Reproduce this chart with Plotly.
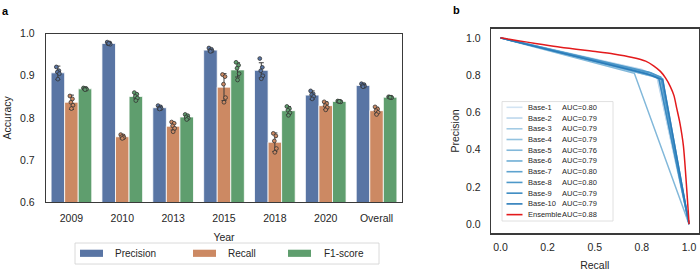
import plotly.graph_objects as go

# ---------------- data: panel a ----------------
years = ["2009", "2010", "2013", "2015", "2018", "2020", "Overall"]
metrics = ["Precision", "Recall", "F1-score"]

precision_mean = [0.907, 0.977, 0.824, 0.961, 0.913, 0.854, 0.877]
recall_mean = [0.837, 0.755, 0.780, 0.873, 0.742, 0.829, 0.817]
f1_mean = [0.869, 0.851, 0.802, 0.914, 0.817, 0.839, 0.849]

precision_err = [0.016, 0.003, 0.005, 0.004, 0.018, 0.010, 0.004]
recall_err = [0.017, 0.005, 0.009, 0.032, 0.022, 0.009, 0.008]
f1_err = [0.002, 0.006, 0.005, 0.017, 0.010, 0.002, 0.001]

precision_folds = [
    [0.921, 0.912, 0.909, 0.905, 0.892],
    [0.980, 0.978, 0.976, 0.975, 0.977],
    [0.829, 0.826, 0.823, 0.822, 0.821],
    [0.966, 0.963, 0.960, 0.959, 0.958],
    [0.941, 0.920, 0.912, 0.900, 0.893],
    [0.864, 0.857, 0.855, 0.851, 0.845],
    [0.881, 0.879, 0.877, 0.875, 0.874],
]
recall_folds = [
    [0.852, 0.845, 0.837, 0.830, 0.822],
    [0.760, 0.757, 0.755, 0.753, 0.751],
    [0.790, 0.787, 0.781, 0.775, 0.767],
    [0.903, 0.898, 0.880, 0.848, 0.837],
    [0.763, 0.757, 0.745, 0.727, 0.718],
    [0.838, 0.834, 0.829, 0.825, 0.819],
    [0.826, 0.821, 0.817, 0.813, 0.808],
]
f1_folds = [
    [0.871, 0.870, 0.869, 0.868, 0.867],
    [0.860, 0.856, 0.851, 0.847, 0.841],
    [0.808, 0.805, 0.802, 0.799, 0.796],
    [0.932, 0.925, 0.918, 0.905, 0.890],
    [0.827, 0.822, 0.818, 0.812, 0.806],
    [0.840, 0.839, 0.839, 0.838, 0.839],
    [0.850, 0.849, 0.849, 0.848, 0.849],
]

# ---------------- data: panel b ----------------
base_names = ["Base-1", "Base-2", "Base-3", "Base-4", "Base-5",
              "Base-6", "Base-7", "Base-8", "Base-9", "Base-10"]
base_auc = ["0.80", "0.79", "0.79", "0.79", "0.76", "0.79", "0.80", "0.80", "0.79", "0.79"]
base_recall = [
    [0.0, 0.78, 0.83, 1.0],
    [0.0, 0.75, 0.83, 1.0],
    [0.0, 0.77, 0.84, 1.0],
    [0.0, 0.79, 0.85, 1.0],
    [0.0, 0.71, 1.0],
    [0.0, 0.78, 0.84, 1.0],
    [0.0, 0.80, 0.86, 1.0],
    [0.0, 0.79, 0.85, 1.0],
    [0.0, 0.77, 0.84, 1.0],
    [0.0, 0.80, 0.86, 1.0],
]
base_precision = [
    [1.0, 0.815, 0.795, 0.0],
    [1.0, 0.830, 0.790, 0.0],
    [1.0, 0.805, 0.785, 0.0],
    [1.0, 0.805, 0.780, 0.0],
    [1.0, 0.810, 0.0],
    [1.0, 0.800, 0.790, 0.0],
    [1.0, 0.810, 0.780, 0.0],
    [1.0, 0.815, 0.790, 0.0],
    [1.0, 0.810, 0.780, 0.0],
    [1.0, 0.800, 0.775, 0.0],
]
ens_name = "Ensemble"
ens_auc = "0.88"
ens_recall = [0.0, 0.318, 0.512, 0.60, 0.70, 0.77, 0.812, 0.848, 0.875, 0.90, 0.92, 0.935, 0.95, 0.97, 1.0]
ens_precision = [1.0, 0.949, 0.926, 0.914, 0.895, 0.875, 0.850, 0.820, 0.785, 0.740, 0.690, 0.620, 0.550, 0.420, 0.0]

# ---------------- styling ----------------
W, H = 700, 271
FONT = "Liberation Sans, Arial, Helvetica, sans-serif"
TXT = "#262626"
bar_colors = ["#5975a4", "#cc8963", "#5f9e6e"]
blues = ["#d3e4f3", "#bcd7ec", "#a3cbe4", "#92c2df", "#82b8da",
         "#6faed5", "#5ea3cf", "#4d98c9", "#3c8bc2", "#2a7bb9"]
red = "#e31a1c"


def px(x):
    return x / W


def py(y):
    return (H - y) / H


fig = go.Figure()

means = [precision_mean, recall_mean, f1_mean]
errs = [precision_err, recall_err, f1_err]
folds = [precision_folds, recall_folds, f1_folds]
xs = list(range(len(years)))
bw = 0.8 / 3
jit = [-0.03, 0.02, -0.01, 0.03, 0.0]

for k, m in enumerate(metrics):
    fig.add_trace(go.Bar(
        x=xs, y=means[k], name=m, offsetgroup=str(k),
        marker=dict(color=bar_colors[k], line=dict(color="white", width=0.8)),
        error_y=dict(type="data", array=errs[k], color="#3a3a3a", thickness=1, width=2.5),
        showlegend=False, xaxis="x", yaxis="y",
    ))
for k, m in enumerate(metrics):
    px_list, py_list = [], []
    for i in xs:
        for j, v in enumerate(folds[k][i]):
            px_list.append(i + (k - 1) * bw + jit[j])
            py_list.append(v)
    fig.add_trace(go.Scatter(
        x=px_list, y=py_list, mode="markers", showlegend=False,
        marker=dict(size=3.8, color=bar_colors[k], line=dict(color="#333333", width=0.8)),
        xaxis="x", yaxis="y", hoverinfo="skip",
    ))

for i, n in enumerate(base_names):
    fig.add_trace(go.Scatter(
        x=base_recall[i], y=base_precision[i], mode="lines", name=n,
        line=dict(color=blues[i], width=1.5), showlegend=False,
        xaxis="x2", yaxis="y2",
    ))
fig.add_trace(go.Scatter(
    x=ens_recall, y=ens_precision, mode="lines", name=ens_name,
    line=dict(color=red, width=1.5, shape="spline", smoothing=0.6), showlegend=False,
    xaxis="x2", yaxis="y2",
))

shapes = []
annotations = []

# legend a (manual)
shapes.append(dict(type="rect", xref="paper", yref="paper",
                   x0=px(75), x1=px(379), y0=py(270), y1=py(248),
                   line=dict(color="#d0d0d0", width=0.8), fillcolor="white", layer="above"))
patch_x = [80, 193, 288]
text_x = [114, 227, 323]
for k, m in enumerate(metrics):
    shapes.append(dict(type="rect", xref="paper", yref="paper",
                       x0=px(patch_x[k]), x1=px(patch_x[k] + 23), y0=py(262.5), y1=py(255),
                       line=dict(width=0), fillcolor=bar_colors[k], layer="above"))
    annotations.append(dict(text=m, xref="paper", yref="paper", x=px(text_x[k]) - 0.002, y=py(259),
                            xanchor="left", yanchor="middle", showarrow=False,
                            font=dict(size=10, color=TXT, family=FONT)))

# legend b (manual)
shapes.append(dict(type="rect", xref="paper", yref="paper",
                   x0=px(502), x1=px(613), y0=py(225), y1=py(100),
                   line=dict(color="#d8d8d8", width=0.8), fillcolor="white", layer="above"))
leg_names = base_names + [ens_name]
leg_auc = base_auc + [ens_auc]
leg_cols = blues + [red]
for i in range(len(leg_names)):
    yc = 106 + i * 11.23
    shapes.append(dict(type="line", xref="paper", yref="paper",
                       x0=px(506.5), x1=px(522.5), y0=py(yc), y1=py(yc),
                       line=dict(color=leg_cols[i], width=1.6), layer="above"))
    annotations.append(dict(text=leg_names[i], xref="paper", yref="paper", x=px(525.5), y=py(yc),
                            xanchor="left", yanchor="middle", showarrow=False,
                            font=dict(size=7.5, color=TXT, family=FONT)))
    annotations.append(dict(text="AUC=" + leg_auc[i], xref="paper", yref="paper", x=px(559.5), y=py(yc),
                            xanchor="left", yanchor="middle", showarrow=False,
                            font=dict(size=7.5, color=TXT, family=FONT)))

# panel labels
annotations.append(dict(text="<b>a</b>", xref="paper", yref="paper", x=px(0), y=py(5),
                        xanchor="left", yanchor="middle", showarrow=False,
                        font=dict(size=11, color="black", family=FONT)))
annotations.append(dict(text="<b>b</b>", xref="paper", yref="paper", x=px(451), y=py(4),
                        xanchor="left", yanchor="middle", showarrow=False,
                        font=dict(size=11, color="black", family=FONT)))

axis_common = dict(showline=True, mirror=True, linecolor="#3a3a3a", linewidth=1.2,
                   showgrid=False, zeroline=False, ticks="",
                   tickfont=dict(size=10.5, color=TXT, family=FONT))

fig.update_layout(
    width=W, height=H, autosize=False,
    margin=dict(l=0, r=0, t=0, b=0),
    paper_bgcolor="white", plot_bgcolor="white",
    barmode="group", bargap=0.2, bargroupgap=0.0,
    font=dict(family=FONT, color=TXT),
    xaxis=dict(domain=[px(46), px(402)], range=[-0.5, 6.5], tickmode="array",
               tickvals=xs, ticktext=years, ticklabelstandoff=6,
               title=dict(text="Year", font=dict(size=10.5, color=TXT, family=FONT), standoff=11),
               anchor="y", **axis_common),
    yaxis=dict(domain=[py(205), py(29)], range=[0.6, 1.0], tickmode="array",
               tickvals=[0.6, 0.7, 0.8, 0.9, 1.0], ticktext=["0.6", "0.7", "0.8", "0.9", "1.0"],
               ticklabelstandoff=8,
               title=dict(text="Accuracy", font=dict(size=10.5, color=TXT, family=FONT), standoff=6),
               anchor="x", **axis_common),
    xaxis2=dict(domain=[px(491), px(698.5)], range=[-0.05, 1.05], tickmode="array",
                tickvals=[0, 0.25, 0.5, 0.75, 1.0], ticktext=["0.0", "0.2", "0.5", "0.8", "1.0"],
                ticklabelstandoff=4,
                title=dict(text="Recall", font=dict(size=10.5, color=TXT, family=FONT), standoff=10),
                anchor="y2", **axis_common),
    yaxis2=dict(domain=[py(238), py(23.6)], range=[-0.05, 1.05], tickmode="array",
                tickvals=[0, 0.2, 0.4, 0.6, 0.8, 1.0],
                ticktext=["0.0", "0.2", "0.4", "0.6", "0.8", "1.0"],
                ticklabelstandoff=7,
                title=dict(text="Precision", font=dict(size=10.5, color=TXT, family=FONT), standoff=4),
                anchor="x2", **axis_common),
    shapes=shapes, annotations=annotations,
)

fig.write_html(
    "out.html",
    config={"displayModeBar": False, "staticPlot": True},
    post_script="document.body.style.margin='0';document.body.style.padding='0';"
                "document.body.style.overflow='hidden';",
)
